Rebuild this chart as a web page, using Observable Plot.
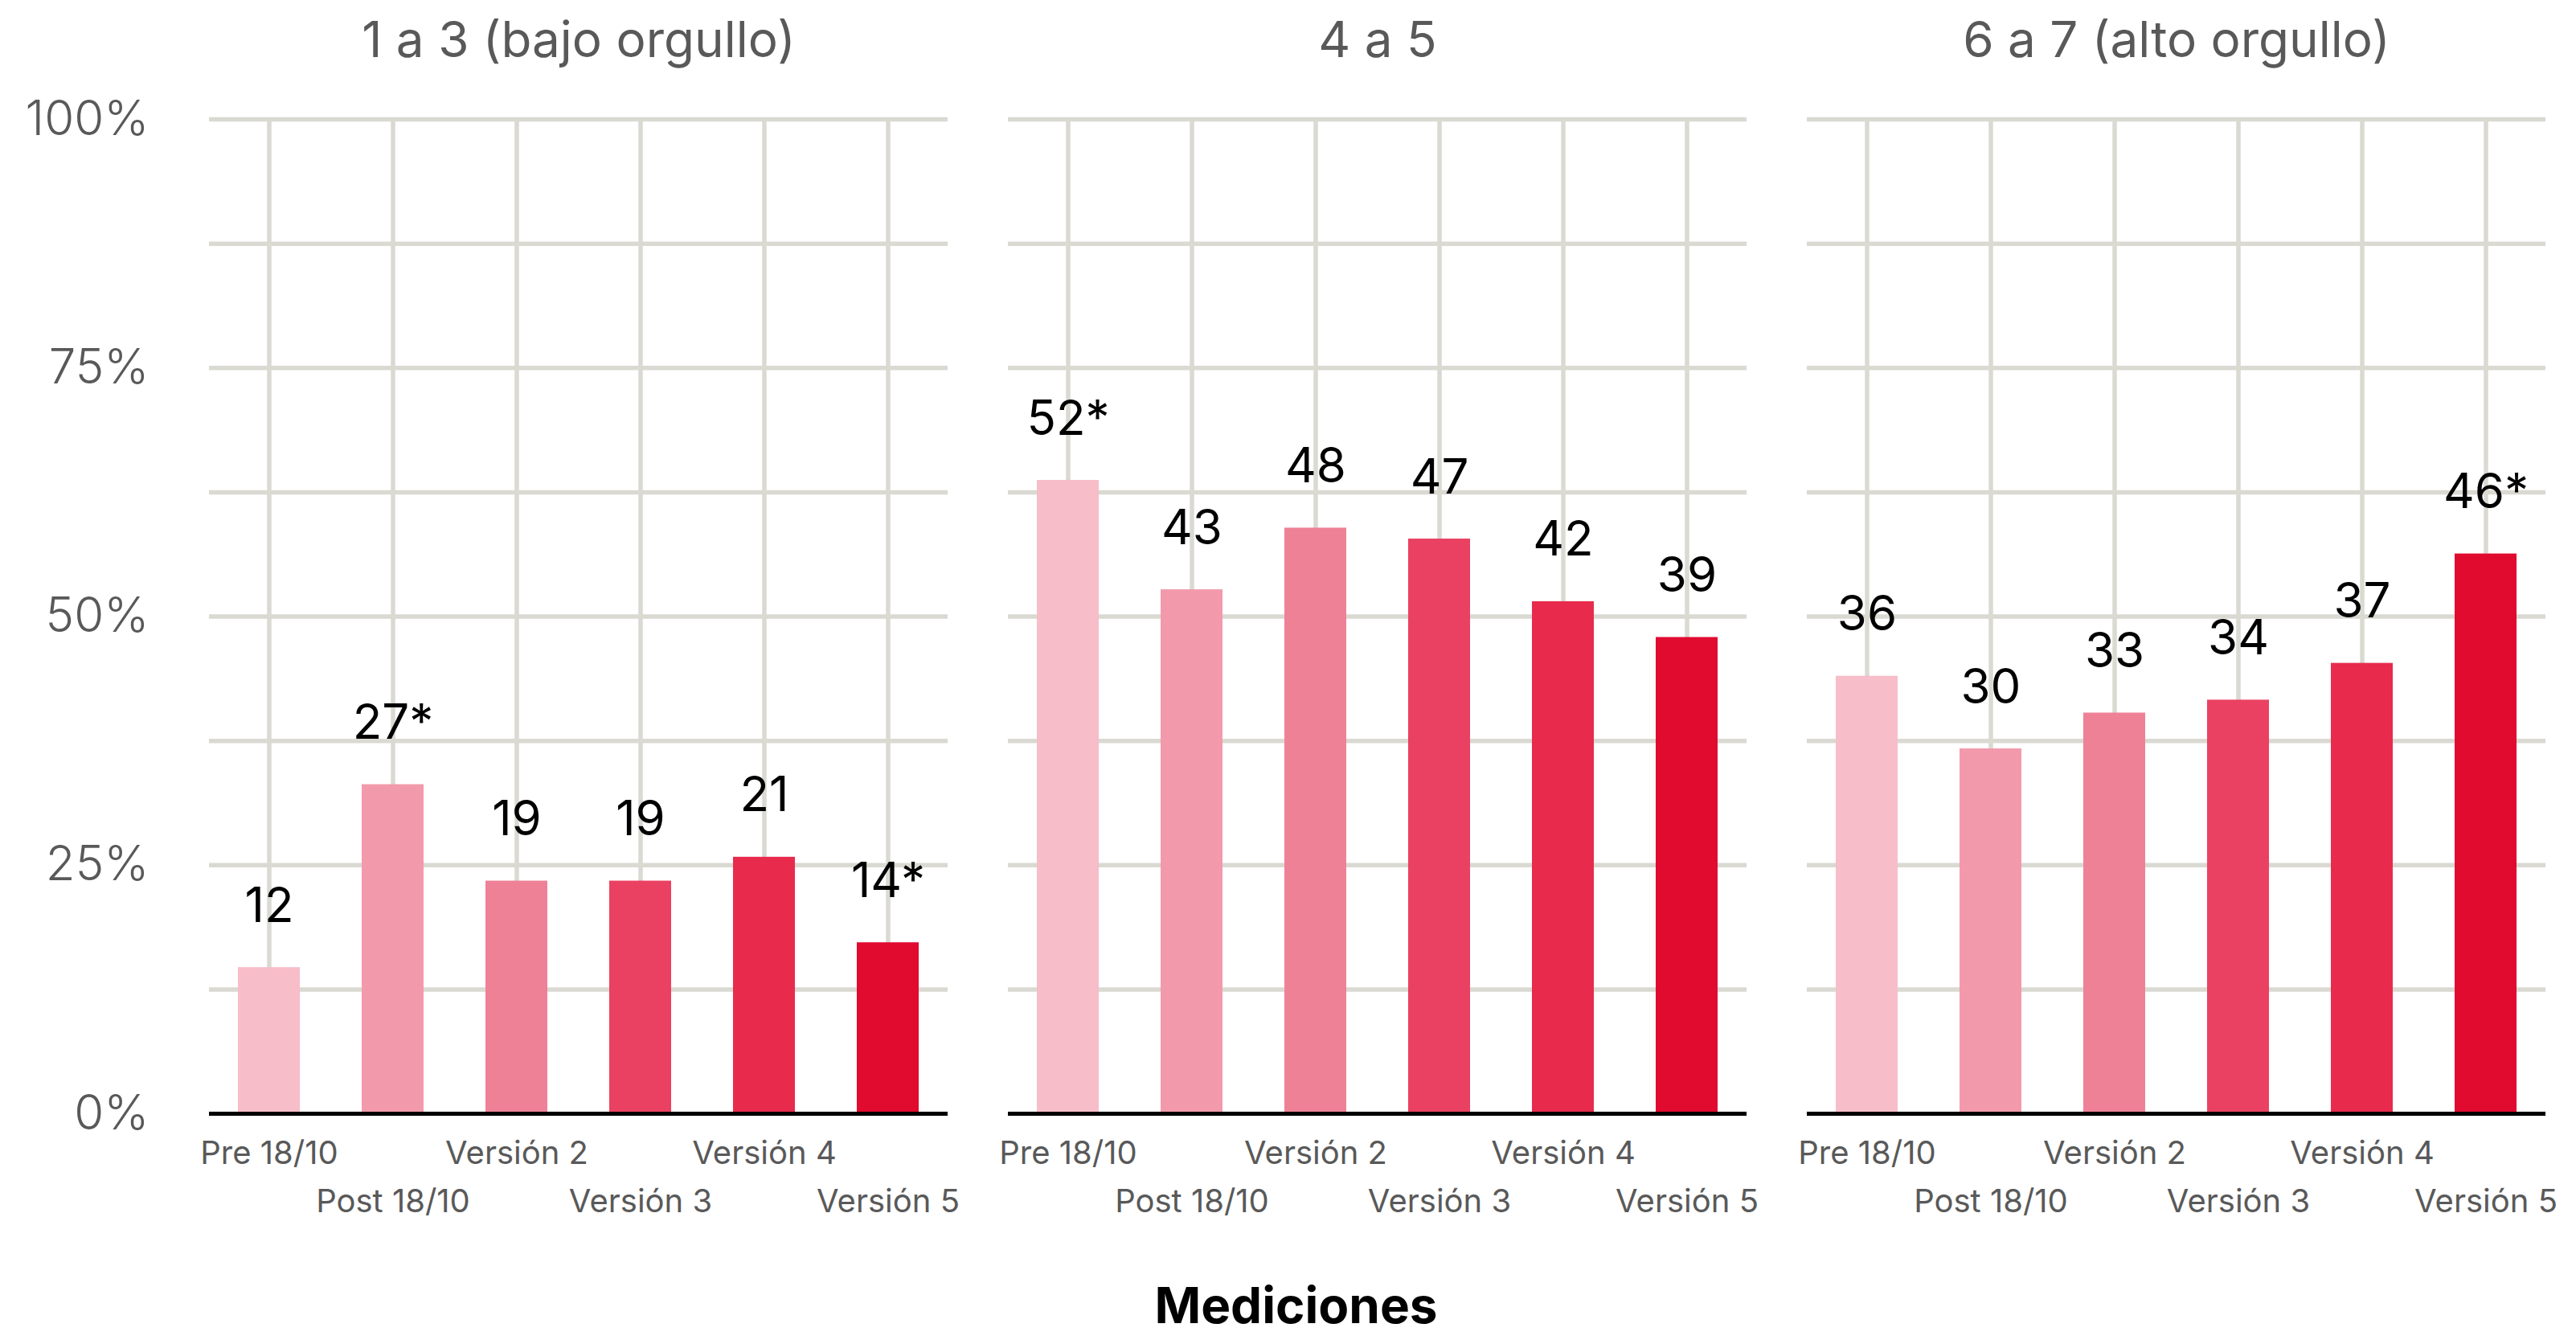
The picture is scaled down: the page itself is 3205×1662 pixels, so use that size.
<!DOCTYPE html>
<html>
<head>
<meta charset="utf-8">
<script src="https://cdn.jsdelivr.net/npm/d3@7"></script>
<script src="https://cdn.jsdelivr.net/npm/@observablehq/plot@0.6"></script>
<style>
  html, body { margin: 0; padding: 0; background: #ffffff; }
  #wrap { position: relative; width: 3205px; height: 1662px; }
  #xlabel { position: absolute; left: 10px; width: 3205px; top: 1593px; text-align: center;
            font-family: Inter, "Noto Sans", sans-serif; font-weight: 700; font-size: 62px; line-height: 1; color: #000; }
</style>
</head>
<body>
<div id="wrap"><div id="xlabel">Mediciones</div></div>
<script>
const FONT = "Inter, 'Noto Sans', sans-serif";

const facets = ["1 a 3 (bajo orgullo)", "4 a 5", "6 a 7 (alto orgullo)"];
const categories = ["Pre 18/10", "Post 18/10", "Versión 2", "Versión 3", "Versión 4", "Versión 5"];

const bajoValues  = [14.7, 33.1, 23.4, 23.4, 25.8, 17.2];
const medioValues = [63.7, 52.7, 58.9, 57.8, 51.5, 47.9];
const altoValues  = [44.0, 36.7, 40.3, 41.6, 45.3, 56.3];

// printed value labels
const bajoLabels  = ["12", "27*", "19", "19", "21", "14*"];
const medioLabels = ["52*", "43", "48", "47", "42", "39"];
const altoLabels  = ["36", "30", "33", "34", "37", "46*"];

const barColors = ["#f7bdc9", "#f29aac", "#ee8196", "#ea4162", "#e82b4d", "#e10a2f"];

const yTicks = [0, 25, 50, 75, 100];
const yTickLabels = ["0%", "25%", "50%", "75%", "100%"];
const yGrid = [0, 12.5, 25, 37.5, 50, 62.5, 75, 87.5, 100];

const seriesValues = [bajoValues, medioValues, altoValues];
const seriesLabels = [bajoLabels, medioLabels, altoLabels];
const data = facets.flatMap((f, i) => categories.map((c, j) => ({
  facet: f, cat: c, value: seriesValues[i][j], label: seriesLabels[i][j]
})));

const row1 = categories.filter((_, i) => i % 2 === 0);
const row2 = categories.filter((_, i) => i % 2 === 1);

const grid = "#dad9d2";

const chart = Plot.plot({
  width: 3205,
  height: 1662,
  marginLeft: 260,
  marginRight: 38,
  marginTop: 148,
  marginBottom: 277,
  style: { fontFamily: FONT, background: "transparent", overflow: "visible" },
  fx: { domain: facets, paddingInner: 0.0755, paddingOuter: 0, axis: null },
  x: { domain: categories, paddingInner: 0.5, paddingOuter: 0.22, axis: null },
  y: { domain: [0, 100], axis: null },
  color: { domain: categories, range: barColors },
  marks: [
    Plot.ruleY(yGrid, { y: d => d, stroke: grid, strokeWidth: 5.5 }),
    Plot.ruleX(categories, { x: d => d, stroke: grid, strokeWidth: 5.5 }),
    Plot.barY(data, { fx: "facet", x: "cat", y: "value", fill: "cat" }),
    Plot.ruleY([0], { stroke: "#000", strokeWidth: 5 }),
    Plot.text(data, { fx: "facet", x: "cat", y: "value", text: "label",
      lineAnchor: "bottom", dy: -57, fontSize: 60, fill: "#000" }),
    Plot.text(facets, { fx: d => d, frameAnchor: "top", lineAnchor: "bottom", dy: -78,
      text: d => d, fontSize: 62, fill: "#595959" }),
    Plot.text(yTicks, { fx: yTicks.map(() => facets[0]), y: d => d, frameAnchor: "left",
      textAnchor: "end", dx: -75, text: (d, i) => yTickLabels[i], fontSize: 60,
      fontWeight: 300, fill: "#595959" }),
    Plot.text(row1, { x: d => d, frameAnchor: "bottom", lineAnchor: "bottom", dy: 62,
      text: d => d, fontSize: 40, fill: "#595959" }),
    Plot.text(row2, { x: d => d, frameAnchor: "bottom", lineAnchor: "bottom", dy: 122,
      text: d => d, fontSize: 40, fill: "#595959" })
  ]
});
document.getElementById("wrap").prepend(chart);
</script>
</body>
</html>
